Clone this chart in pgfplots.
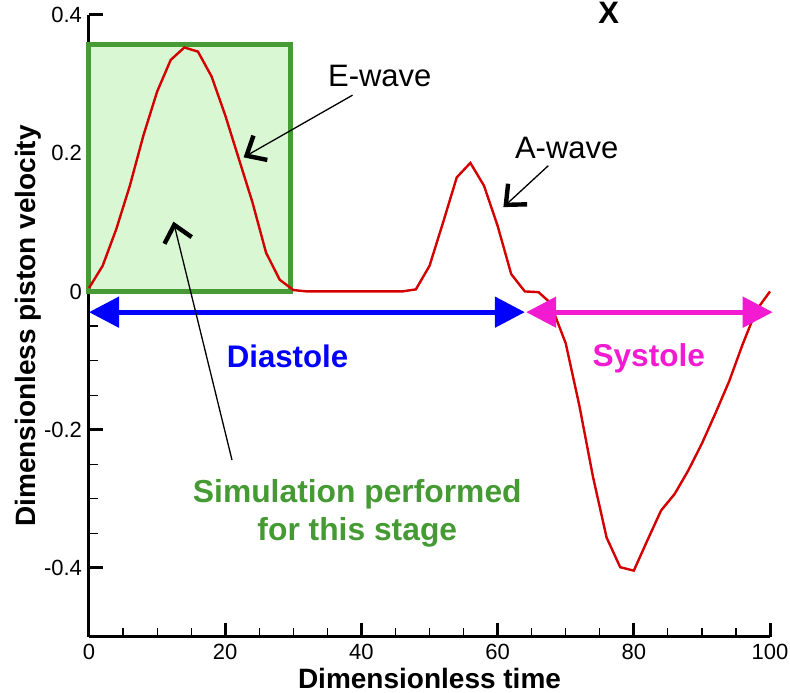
\documentclass[border=0pt]{standalone}
\usepackage{pgfplots}
\pgfplotsset{compat=1.18}
\usepackage{fontspec}
\setmainfont{Liberation Sans}
\usetikzlibrary{arrows.meta}
\definecolor{curvered}{HTML}{D40000}
\definecolor{boxgreen}{HTML}{479B35}
\definecolor{boxfill}{HTML}{D9F7D3}
\definecolor{txtgreen}{HTML}{459A34}
\definecolor{sysmag}{HTML}{F21BD1}
\begin{document}
\begin{tikzpicture}
\begin{axis}[
  scale only axis, width=340.5pt, height=311pt,
  xmin=0, xmax=100, ymin=-0.5, ymax=0.4,
  axis x line=bottom, axis y line=left,
  axis line style={-, line width=1.5pt, black},
  xtick={0,20,40,60,80,100},
  ytick={-0.4,-0.2,0,0.2,0.4},
  yticklabels={-0.4,-0.2,0,0.2,0.4},
  minor x tick num=3, minor y tick num=3,
  tick align=inside,
  major tick length=7pt, minor tick length=4.5pt,
  every major tick/.style={line width=1.5pt, black},
  every minor tick/.style={line width=0.6pt, black},
  /pgf/number format/assume math mode=true,
  tick label style={font=\fontsize{11}{13}\selectfont},
  xlabel={Dimensionless time},
  ylabel={Dimensionless piston velocity},
  xlabel style={font=\fontsize{14}{16}\selectfont\bfseries, at={(axis description cs:0.5,-0.0836)}, anchor=base},
  ylabel style={font=\fontsize{14}{16}\selectfont\bfseries, at={(axis description cs:-0.0896,0.5)}, anchor=center},
  clip=false,
]
\coordinate (LL) at (rel axis cs:0,0);
\coordinate (UR) at (rel axis cs:1,1);
% green box
\addplot[draw=boxgreen, fill=boxfill, line width=2.5pt] coordinates {(0,0) (29.6,0) (29.6,0.358) (0,0.358)} -- cycle;
% curve
\addplot[curvered, line width=1.2pt] coordinates {
(0,0.005) (2,0.037) (4,0.090) (6,0.153) (8,0.226) (10,0.289) (12,0.335) (14,0.353)
(16,0.347) (18,0.311) (20,0.255) (22,0.192) (24,0.129) (26,0.056) (28,0.017) (30,0.002)
(32,0) (34,0) (36,0) (38,0) (40,0) (42,0) (44,0) (46,0)
(48,0.003) (50,0.037) (52,0.100) (54,0.165) (56,0.186) (58,0.153) (60,0.095) (62,0.025)
(64,0.0) (66,-0.001) (67.7,-0.016) (70,-0.075) (72,-0.165) (74,-0.268) (76,-0.356) (78,-0.399)
(80,-0.404) (82,-0.360) (84,-0.317) (86,-0.293) (88,-0.259) (90,-0.220) (92,-0.176) (94,-0.130)
(96,-0.076) (98,-0.027) (100,0.0)
};
% phase arrows
\draw[blue, line width=2.5pt, {Triangle[length=15pt,width=15pt]}-{Triangle[length=15pt,width=15pt]}] (axis cs:0,-0.030) -- (axis cs:64.0,-0.030);
\draw[sysmag, line width=2.5pt, {Triangle[length=15pt,width=15pt]}-{Triangle[length=15pt,width=15pt]}] (axis cs:64.2,-0.030) -- (axis cs:100.4,-0.030);
\node[blue, font=\fontsize{15.6}{18}\selectfont\bfseries, anchor=base] at (axis cs:29.15,-0.110) {Diastole};
\node[sysmag, font=\fontsize{15.8}{18}\selectfont\bfseries, anchor=base] at (axis cs:82.2,-0.109) {Systole};
\node[txtgreen, font=\fontsize{15.9}{19}\selectfont\bfseries, anchor=base, align=center] at (axis cs:39.4,-0.360) {Simulation performed\\for this stage};
% annotations
\node[font=\fontsize{15.5}{18}\selectfont, anchor=base] at (axis cs:42.7,0.296) {E-wave};
\node[font=\fontsize{15.5}{18}\selectfont, anchor=base] at (axis cs:70.15,0.193) {A-wave};
\node[font=\fontsize{15.5}{18}\selectfont\bfseries, anchor=base] at (axis cs:76.3,0.388) {X};
\draw[black, line width=0.65pt, -{Straight Barb[length=8pt,width=14pt,line width=2.2pt]}] (axis cs:38.7,0.284) -- (axis cs:22.7,0.194);
\draw[black, line width=0.65pt, -{Straight Barb[length=8pt,width=14pt,line width=2.2pt]}] (axis cs:67.45,0.182) -- (axis cs:60.85,0.122);
\draw[black, line width=0.65pt, -{Straight Barb[length=8pt,width=14pt,line width=2.2pt]}] (axis cs:21.0,-0.244) -- (axis cs:12.4,0.101);
\end{axis}
\pgfresetboundingbox
\path[use as bounding box] ([shift={(-44.5pt,-28pt)}]LL) rectangle ([shift={(10pt,7.5pt)}]UR);
\end{tikzpicture}
\end{document}
